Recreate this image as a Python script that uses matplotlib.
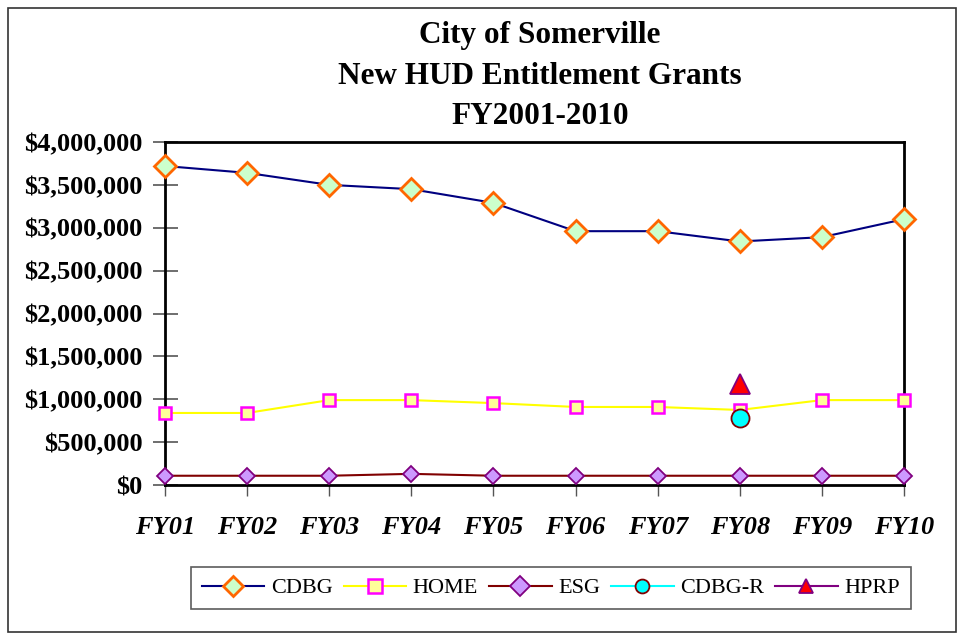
import matplotlib.pyplot as plt
from matplotlib.ticker import FuncFormatter
from matplotlib.patches import Rectangle

years = ['FY01', 'FY02', 'FY03', 'FY04', 'FY05', 'FY06', 'FY07', 'FY08', 'FY09', 'FY10']
cdbg = [3720000, 3640000, 3500000, 3450000, 3290000, 2960000, 2960000, 2840000, 2890000, 3100000]
home = [840000, 840000, 990000, 990000, 955000, 910000, 910000, 875000, 990000, 990000]
esg = [108000, 108000, 108000, 130000, 108000, 108000, 108000, 108000, 108000, 108000]
cdbg_r_year = ['FY08']
cdbg_r = [780000]
hprp_year = ['FY08']
hprp = [1180000]

plt.rcParams['font.family'] = ['Liberation Serif', 'DejaVu Serif']

fig = plt.figure(figsize=(9.64, 6.42), dpi=100)
fig.patches.append(Rectangle((0.008, 0.016), 0.984, 0.972, transform=fig.transFigure,
                             fill=False, edgecolor='#333333', linewidth=1.2))
ax = fig.add_axes([165 / 964, 1 - 485 / 642, (904 - 165) / 964, (485 - 142) / 642])

x = list(range(len(years)))
ax.plot(x, cdbg, color='#000080', lw=1.5, marker='D', ms=11, mfc='#ccffcc',
        mec='#ff6600', mew=2, label='CDBG', clip_on=False, zorder=5)
ax.plot(x, home, color='#ffff00', lw=1.5, marker='s', ms=8, mfc='#ffff99',
        mec='#ff00ff', mew=1.8, label='HOME', clip_on=False, zorder=4)
ax.plot(x, esg, color='#800000', lw=1.5, marker='D', ms=8, mfc='#cc99ff',
        mec='#800080', mew=1.3, label='ESG', clip_on=False, zorder=4)
xr = [years.index(y) for y in cdbg_r_year]
ax.plot(xr, cdbg_r, color='#00ffff', lw=1.5, marker='o', ms=13, mfc='#00ffff',
        mec='#800000', mew=1.3, label='CDBG-R', clip_on=False, zorder=6)
xh = [years.index(y) for y in hprp_year]
ax.plot(xh, hprp, color='#800080', lw=1.5, marker='^', ms=15, mfc='#ff0000',
        mec='#800080', mew=1.3, label='HPRP', clip_on=False, zorder=6)

ax.set_xlim(0, 9)
ax.set_ylim(0, 4000000)
ax.set_yticks(range(0, 4000001, 500000))
ax.yaxis.set_major_formatter(FuncFormatter(lambda v, p: '${:,.0f}'.format(v)))
ax.set_xticks(x)
ax.set_xticklabels(years, fontsize=19, fontweight='bold', fontstyle='italic')
for lab in ax.get_yticklabels():
    lab.set_fontsize(19)
    lab.set_fontweight('bold')
ax.tick_params(axis='y', direction='inout', length=18, width=1.2, color='#555555', pad=7)
ax.tick_params(axis='x', direction='out', length=8, width=1, color='#555555', pad=14)
for s in ax.spines.values():
    s.set_linewidth(2)
    s.set_color('black')

for txt, yp in [('City of Somerville', 35), ('New HUD Entitlement Grants', 76),
                ('FY2001-2010', 117)]:
    fig.text(0.56, 1 - yp / 642, txt, ha='center', va='center',
             fontsize=22.5, fontweight='bold')

leg = fig.legend(loc='center', bbox_to_anchor=(551 / 964, 1 - 588 / 642), ncol=5,
                 fontsize=16, frameon=True, fancybox=False, handlelength=2.8,
                 columnspacing=0.5, handletextpad=0.3, borderpad=0.5)
leg.get_frame().set_edgecolor('#333333')
leg.get_frame().set_linewidth(1.2)
for h in leg.legend_handles:
    h.set_markersize(10)

fig.savefig('out.png', dpi=100)
